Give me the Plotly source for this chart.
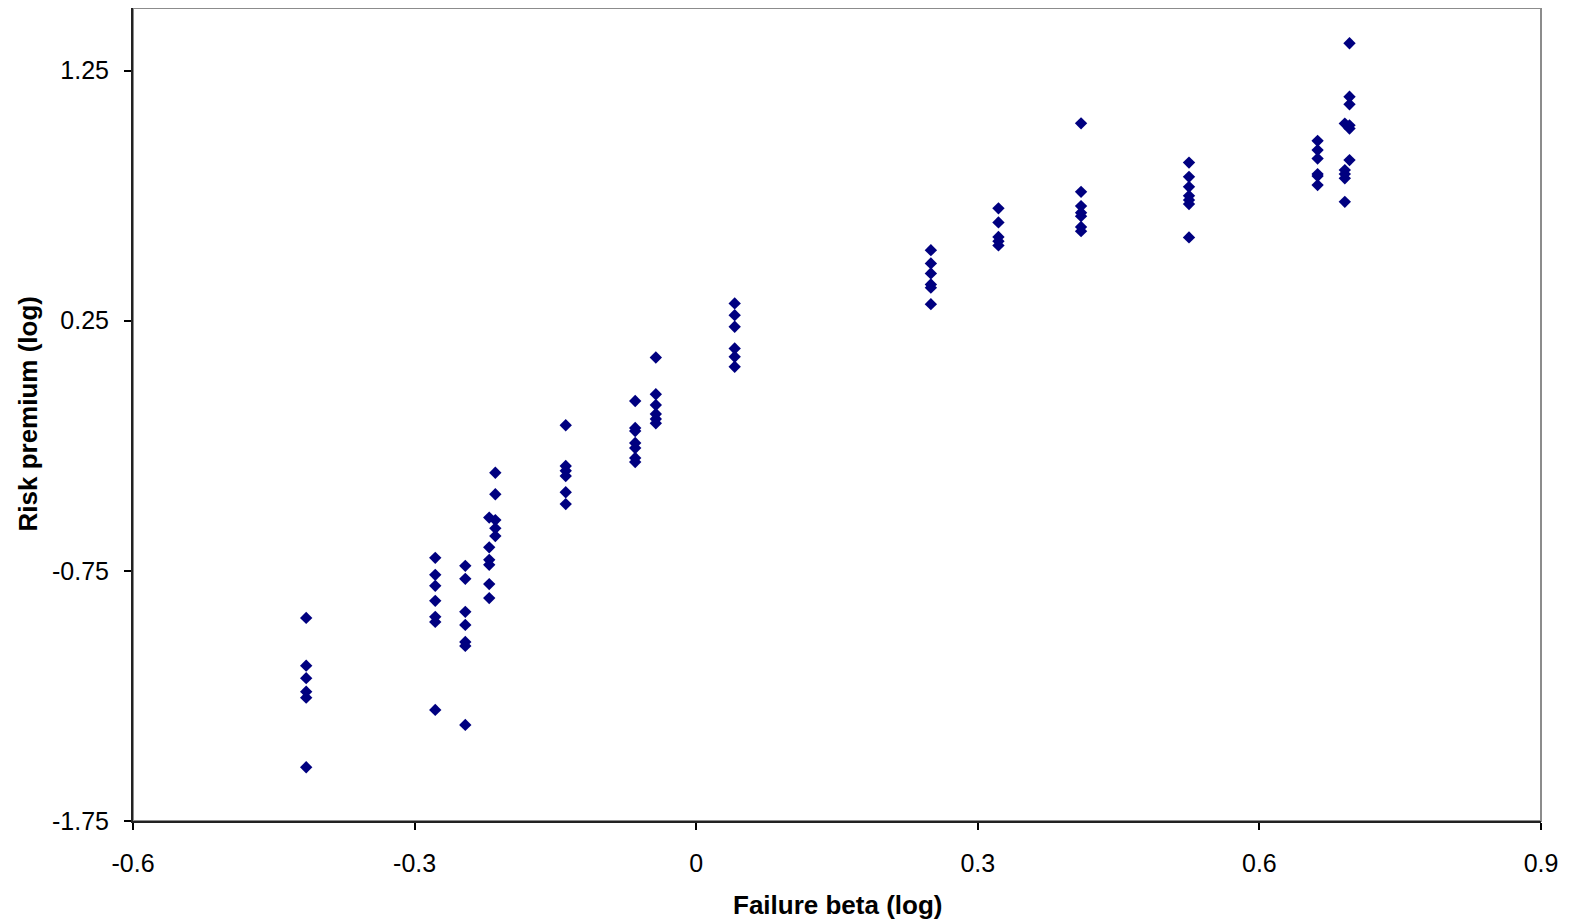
import plotly.graph_objects as go

# Failure beta (log) levels and the risk premium (log) observations at each level
beta_levels = [-0.4155, -0.278, -0.246, -0.2205, -0.214, -0.139, -0.065, -0.043,
               0.041, 0.250, 0.322, 0.410, 0.525, 0.662, 0.691, 0.696]
premiums = [
    [-0.938, -1.129, -1.179, -1.233, -1.257, -1.535],
    [-0.698, -0.766, -0.810, -0.870, -0.934, -0.954, -1.306],
    [-0.730, -0.782, -0.914, -0.966, -1.034, -1.050, -1.366],
    [-0.537, -0.656, -0.706, -0.726, -0.803, -0.859],
    [-0.358, -0.444, -0.547, -0.580, -0.611],
    [-0.168, -0.331, -0.350, -0.371, -0.436, -0.483],
    [-0.071, -0.179, -0.191, -0.239, -0.259, -0.299, -0.315],
    [0.103, -0.044, -0.087, -0.123, -0.143, -0.160],
    [0.319, 0.272, 0.226, 0.139, 0.106, 0.066],
    [0.532, 0.479, 0.439, 0.395, 0.382, 0.316],
    [0.699, 0.643, 0.585, 0.568, 0.551],
    [1.039, 0.765, 0.708, 0.682, 0.668, 0.625, 0.608],
    [0.882, 0.825, 0.785, 0.749, 0.732, 0.716, 0.583],
    [0.969, 0.932, 0.898, 0.836, 0.828, 0.792],
    [1.038, 0.852, 0.836, 0.819, 0.725],
    [1.359, 1.145, 1.115, 1.031, 1.018, 0.892],
]

x_ticks = [-0.6, -0.3, 0, 0.3, 0.6, 0.9]
x_tick_text = ["-0.6", "-0.3", "0", "0.3", "0.6", "0.9"]
y_ticks = [-1.75, -0.75, 0.25, 1.25]
y_tick_text = ["-1.75", "-0.75", "0.25", "1.25"]

xs, ys = [], []
for b, vals in zip(beta_levels, premiums):
    for v in vals:
        xs.append(b)
        ys.append(v)

FONT = "Liberation Sans, Arial, sans-serif"

fig = go.Figure()
fig.add_trace(go.Scatter(
    x=xs, y=ys, mode="markers",
    marker=dict(symbol="diamond", size=9.5, color="#000080", line=dict(width=0)),
    showlegend=False, hoverinfo="x+y",
))

fig.update_layout(
    width=1555, height=914,
    margin=dict(l=125, r=22, t=0, b=101),
    paper_bgcolor="white", plot_bgcolor="white",
    font=dict(family=FONT, size=25, color="black"),
    shapes=[dict(type="rect", xref="paper", yref="paper", x0=0, y0=0, x1=1, y1=1,
                 line=dict(color="#8c8c8c", width=2), layer="below")],
    annotations=[
        dict(text="<b>Failure beta (log)</b>", xref="paper", yref="paper",
             x=0.5, y=0, yshift=-84, showarrow=False, xanchor="center", yanchor="middle",
             font=dict(family=FONT, size=26, color="black")),
        dict(text="<b>Risk premium (log)</b>", xref="paper", yref="paper",
             x=0, y=0.5, xshift=-106, showarrow=False, xanchor="center", yanchor="middle",
             textangle=-90, font=dict(family=FONT, size=26, color="black")),
    ],
)

fig.update_xaxes(
    range=[-0.6, 0.9], tickvals=x_ticks, ticktext=x_tick_text,
    showgrid=False, zeroline=False, showline=True, linecolor="#222222", linewidth=2,
    ticks="outside", ticklen=7, tickwidth=1.5, tickcolor="black",
    ticklabelstandoff=12, tickfont=dict(family=FONT, size=25, color="black"),
)
fig.update_yaxes(
    range=[-1.75, 1.5], tickvals=y_ticks, ticktext=y_tick_text,
    showgrid=False, zeroline=False, showline=True, linecolor="#222222", linewidth=2,
    ticks="outside", ticklen=7, tickwidth=1.5, tickcolor="black",
    ticklabelstandoff=10, tickfont=dict(family=FONT, size=25, color="black"),
)

fig.write_html("out.html")
